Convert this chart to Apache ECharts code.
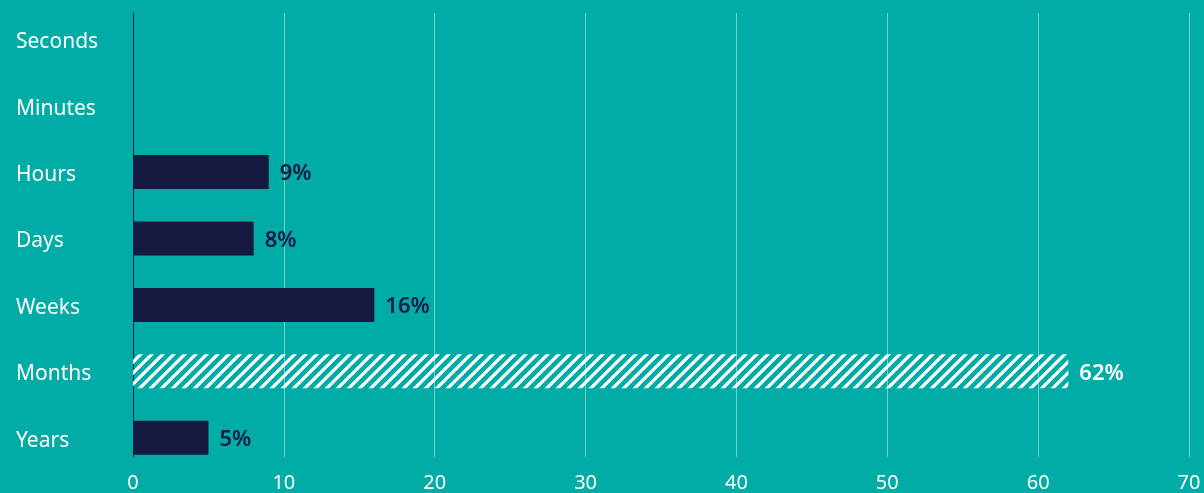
<!DOCTYPE html>
<html><head><meta charset="utf-8">
<script src="https://cdn.jsdelivr.net/npm/echarts@6/dist/echarts.min.js"></script>
<style>html,body{margin:0;padding:0;background:#00ACA5;}#c{width:1204px;height:493px;}</style>
</head><body><div id="c"></div>
<script>
var categories = ['Seconds','Minutes','Hours','Days','Weeks','Months','Years'];
var values = [null, null, 9, 8, 16, 62, 5];
var xTicks = [0,10,20,30,40,50,60,70];
var highlight = 'Months';

var NAVY = '#161A40', TEAL = '#00ACA5', FONT = '"Noto Sans", sans-serif';
function hatch(){
  var s = 11, c = document.createElement('canvas');
  c.width = s; c.height = s;
  var g = c.getContext('2d');
  g.strokeStyle = '#ffffff'; g.lineWidth = 3.2;
  g.beginPath();
  for (var k = -1; k <= 1; k++) { g.moveTo(k*s - 1, s + 1); g.lineTo(k*s + s + 1, -1); }
  g.stroke();
  return c;
}
var pat = {image: hatch(), repeat: 'repeat'};

var data = categories.map(function(c, i){
  var v = values[i];
  var hi = c === highlight;
  return {
    value: v,
    itemStyle: {color: hi ? pat : NAVY},
    label: {color: hi ? '#ffffff' : NAVY}
  };
});

var chart = echarts.init(document.getElementById('c'));
chart.setOption({
  backgroundColor: TEAL,
  animation: false,
  grid: [
    {left: 133, right: 15, top: 6, bottom: 22},
    {left: 133, right: 15, top: 13, bottom: 35}
  ],
  xAxis: [
    {gridIndex: 0, type: 'value', min: xTicks[0], max: xTicks[xTicks.length-1], interval: 10,
     axisLine: {show: false}, axisTick: {show: false}, axisLabel: {show: false}, splitLine: {show: false}},
    {gridIndex: 1, type: 'value', min: xTicks[0], max: xTicks[xTicks.length-1], interval: 10,
     axisLine: {show: false}, axisTick: {show: false},
     axisLabel: {color: '#ffffff', fontSize: 20, fontFamily: FONT, margin: 16},
     splitLine: {show: true, lineStyle: {color: 'rgba(255,255,255,0.45)', width: 1}}}
  ],
  yAxis: [
    {gridIndex: 0, type: 'category', data: categories, inverse: true,
     axisLine: {show: false}, axisTick: {show: false},
     axisLabel: {color: '#ffffff', fontSize: 21, fontFamily: FONT, align: 'left', margin: 117,
       formatter: function(v){ return '{a|' + v + '}'; },
       rich: {a: {color: '#ffffff', fontSize: 21, fontFamily: FONT, padding: [6,0,0,0]}}}},
    {gridIndex: 1, type: 'category', data: categories, inverse: true,
     axisLine: {show: true, lineStyle: {color: NAVY, width: 1}}, axisTick: {show: false}, axisLabel: {show: false}}
  ],
  series: [{
    type: 'bar', xAxisIndex: 0, yAxisIndex: 0, data: data, barWidth: 34,
    label: {show: true, position: 'right', distance: 11, fontSize: 22, fontWeight: 600, fontFamily: FONT,
      offset: [0, 2],
      formatter: function(p){ return p.value == null ? '' : p.value + '%'; }}
  }]
});
</script></body></html>
